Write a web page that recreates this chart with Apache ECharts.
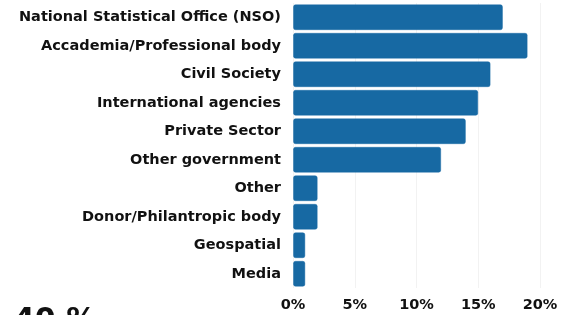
<!DOCTYPE html>
<html>
<head>
<meta charset="utf-8">
<script src="https://cdn.jsdelivr.net/npm/echarts@6/dist/echarts.min.js"></script>
<style>
  html, body { margin: 0; padding: 0; background: #fff; }
  #chart { width: 562px; height: 315px; }
</style>
</head>
<body>
<div id="chart"></div>
<script>
// categories top to bottom
var categories = [
  'National Statistical Office (NSO)',
  'Accademia/Professional body',
  'Civil Society',
  'International agencies',
  'Private Sector',
  'Other government',
  'Other',
  'Donor/Philantropic body',
  'Geospatial',
  'Media'
];
// share of respondents, %
var shares = [17, 19, 16, 15, 14, 12, 2, 2, 1, 1];
var xTicks = [0, 5, 10, 15, 20];

var font = '"DejaVu Sans", sans-serif';
var chart = echarts.init(document.getElementById('chart'));
chart.setOption({
  animation: false,
  grid: { left: 293, right: 22, top: 3, bottom: 27, containLabel: false },
  xAxis: {
    type: 'value',
    min: xTicks[0],
    max: xTicks[xTicks.length - 1],
    interval: 5,
    axisLine: { show: false },
    axisTick: { show: false },
    splitLine: { show: true, lineStyle: { color: '#f2f2f2', width: 1 } },
    axisLabel: {
      formatter: '{value}%',
      color: '#111',
      fontFamily: font,
      fontWeight: 'bold',
      fontSize: 14.5,
      margin: 10
    }
  },
  yAxis: {
    type: 'category',
    data: categories,
    inverse: true,
    axisLine: { show: false },
    axisTick: { show: false },
    axisLabel: {
      color: '#111',
      fontFamily: font,
      fontWeight: 'bold',
      fontSize: 14.5,
      margin: 12
    }
  },
  series: [{
    type: 'bar',
    data: shares,
    barCategoryGap: '9%',
    itemStyle: {
      color: '#1769a3',
      borderRadius: 2,
      borderColor: 'rgba(23,105,163,0.45)',
      borderWidth: 1
    }
  }],
  graphic: [{
    type: 'text',
    left: 14,
    top: 306,
    style: {
      text: '40 %',
      fill: '#111',
      font: 'bold 30px ' + font
    }
  }]
});
</script>
</body>
</html>
